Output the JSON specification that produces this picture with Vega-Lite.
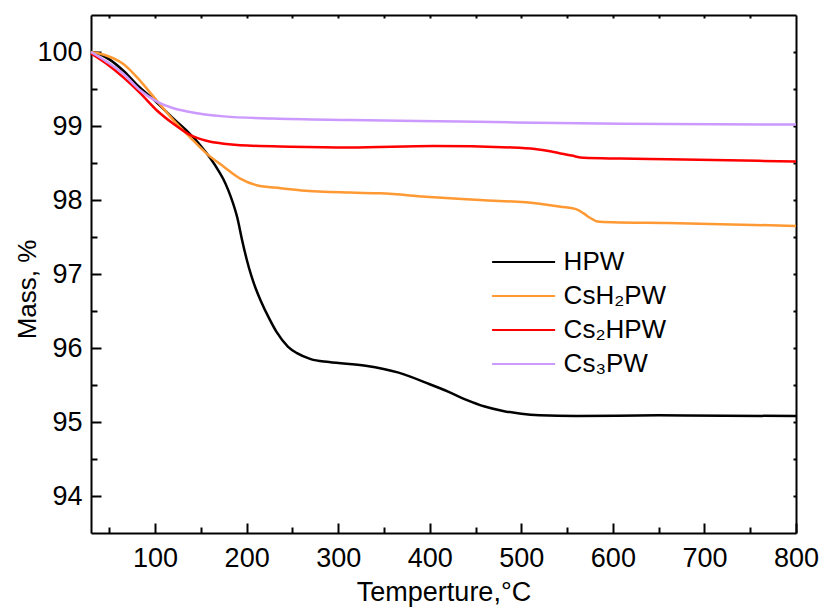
{
  "$schema": "https://vega.github.io/schema/vega-lite/v6.json",
  "width": 705,
  "height": 518,
  "autosize": {"type": "none"},
  "padding": {"left": 91, "top": 15, "right": 30, "bottom": 77},
  "background": "white",
  "config": {
    "font": "Liberation Sans",
    "view": {"stroke": null},
    "axis": {"grid": false, "domainColor": "black", "domainWidth": 2, "tickColor": "black", "tickWidth": 2, "labelColor": "black", "titleColor": "black", "labelFont": "Liberation Sans", "titleFont": "Liberation Sans", "titleFontWeight": "normal", "labelFlush": false}
  },
  "data": {"values": [
    {"s":"HPW","t":30,"m":100.0},{"s":"HPW","t":40,"m":99.97},{"s":"HPW","t":50,"m":99.9},{"s":"HPW","t":65,"m":99.75},{"s":"HPW","t":80,"m":99.56},{"s":"HPW","t":100,"m":99.34},{"s":"HPW","t":120,"m":99.1},{"s":"HPW","t":135,"m":98.93},{"s":"HPW","t":150,"m":98.73},{"s":"HPW","t":160,"m":98.57},{"s":"HPW","t":170,"m":98.38},{"s":"HPW","t":175,"m":98.27},{"s":"HPW","t":180,"m":98.13},{"s":"HPW","t":185,"m":97.96},{"s":"HPW","t":190,"m":97.75},{"s":"HPW","t":195,"m":97.46},{"s":"HPW","t":200,"m":97.2},{"s":"HPW","t":205,"m":96.98},{"s":"HPW","t":210,"m":96.8},{"s":"HPW","t":215,"m":96.65},{"s":"HPW","t":225,"m":96.39},{"s":"HPW","t":233,"m":96.21},{"s":"HPW","t":245,"m":96.02},{"s":"HPW","t":255,"m":95.93},{"s":"HPW","t":270,"m":95.85},{"s":"HPW","t":290,"m":95.81},{"s":"HPW","t":330,"m":95.76},{"s":"HPW","t":365,"m":95.67},{"s":"HPW","t":400,"m":95.51},{"s":"HPW","t":420,"m":95.41},{"s":"HPW","t":440,"m":95.3},{"s":"HPW","t":460,"m":95.21},{"s":"HPW","t":480,"m":95.15},{"s":"HPW","t":500,"m":95.11},{"s":"HPW","t":520,"m":95.09},{"s":"HPW","t":560,"m":95.08},{"s":"HPW","t":650,"m":95.09},{"s":"HPW","t":800,"m":95.08},
    {"s":"CsH₂PW","t":30,"m":100.0},{"s":"CsH₂PW","t":45,"m":99.96},{"s":"CsH₂PW","t":65,"m":99.84},{"s":"CsH₂PW","t":83,"m":99.62},{"s":"CsH₂PW","t":100,"m":99.37},{"s":"CsH₂PW","t":120,"m":99.08},{"s":"CsH₂PW","t":138,"m":98.85},{"s":"CsH₂PW","t":156,"m":98.63},{"s":"CsH₂PW","t":175,"m":98.45},{"s":"CsH₂PW","t":193,"m":98.29},{"s":"CsH₂PW","t":211,"m":98.2},{"s":"CsH₂PW","t":237,"m":98.16},{"s":"CsH₂PW","t":260,"m":98.13},{"s":"CsH₂PW","t":313,"m":98.1},{"s":"CsH₂PW","t":346,"m":98.09},{"s":"CsH₂PW","t":400,"m":98.04},{"s":"CsH₂PW","t":455,"m":98.0},{"s":"CsH₂PW","t":520,"m":97.95},{"s":"CsH₂PW","t":543,"m":97.91},{"s":"CsH₂PW","t":561,"m":97.87},{"s":"CsH₂PW","t":568,"m":97.82},{"s":"CsH₂PW","t":575,"m":97.76},{"s":"CsH₂PW","t":583,"m":97.71},{"s":"CsH₂PW","t":600,"m":97.7},{"s":"CsH₂PW","t":660,"m":97.69},{"s":"CsH₂PW","t":800,"m":97.65},
    {"s":"Cs₂HPW","t":30,"m":99.98},{"s":"Cs₂HPW","t":47,"m":99.84},{"s":"Cs₂HPW","t":65,"m":99.66},{"s":"Cs₂HPW","t":84,"m":99.44},{"s":"Cs₂HPW","t":102,"m":99.21},{"s":"Cs₂HPW","t":120,"m":99.03},{"s":"Cs₂HPW","t":138,"m":98.88},{"s":"Cs₂HPW","t":156,"m":98.8},{"s":"Cs₂HPW","t":175,"m":98.76},{"s":"Cs₂HPW","t":193,"m":98.74},{"s":"Cs₂HPW","t":248,"m":98.72},{"s":"Cs₂HPW","t":313,"m":98.71},{"s":"Cs₂HPW","t":404,"m":98.73},{"s":"Cs₂HPW","t":490,"m":98.71},{"s":"Cs₂HPW","t":515,"m":98.69},{"s":"Cs₂HPW","t":535,"m":98.65},{"s":"Cs₂HPW","t":555,"m":98.6},{"s":"Cs₂HPW","t":568,"m":98.57},{"s":"Cs₂HPW","t":608,"m":98.56},{"s":"Cs₂HPW","t":660,"m":98.55},{"s":"Cs₂HPW","t":800,"m":98.52},
    {"s":"Cs₃PW","t":30,"m":100.0},{"s":"Cs₃PW","t":47,"m":99.87},{"s":"Cs₃PW","t":65,"m":99.71},{"s":"Cs₃PW","t":84,"m":99.48},{"s":"Cs₃PW","t":102,"m":99.33},{"s":"Cs₃PW","t":120,"m":99.24},{"s":"Cs₃PW","t":138,"m":99.19},{"s":"Cs₃PW","t":175,"m":99.13},{"s":"Cs₃PW","t":229,"m":99.1},{"s":"Cs₃PW","t":313,"m":99.08},{"s":"Cs₃PW","t":433,"m":99.06},{"s":"Cs₃PW","t":608,"m":99.03},{"s":"Cs₃PW","t":800,"m":99.02}
  ]},
  "resolve": {"axis": {"x": "independent", "y": "independent"}},
  "layer": [
    {
      "mark": {"type": "line", "opacity": 0},
      "encoding": {
        "x": {"field": "t", "type": "quantitative", "scale": {"domain": [30, 800], "nice": false, "zero": false},
          "axis": {"orient": "bottom", "values": [50,150,250,350,450,550,650,750], "tickSize": -6, "labels": false, "domain": false, "title": null}},
        "y": {"field": "m", "type": "quantitative", "scale": {"domain": [93.5, 100.5], "nice": false, "zero": false},
          "axis": {"orient": "left", "values": [94.5,95.5,96.5,97.5,98.5,99.5], "tickSize": -6, "labels": false, "domain": false, "title": null}},
        "detail": {"field": "s"}
      }
    },
    {
      "mark": {"type": "line", "opacity": 0},
      "encoding": {
        "x": {"field": "t", "type": "quantitative",
          "axis": {"orient": "top", "values": [50,100,150,200,250,300,350,400,450,500,550,600,650,700,750], "tickSize": -3, "labels": false, "domain": true, "title": null}},
        "y": {"field": "m", "type": "quantitative",
          "axis": {"orient": "right", "values": [94,94.5,95,95.5,96,96.5,97,97.5,98,98.5,99,99.5,100], "tickSize": -3, "labels": false, "domain": true, "title": null}},
        "detail": {"field": "s"}
      }
    },
    {
      "mark": {"type": "line", "strokeWidth": 2.5, "interpolate": "monotone"},
      "encoding": {
        "x": {"field": "t", "type": "quantitative",
          "axis": {"orient": "bottom", "values": [100,200,300,400,500,600,700,800], "tickSize": -10, "labelPadding": 22, "labelFontSize": 27, "title": "Temperture,°C", "titleFontSize": 27, "titleY": 67, "titleBaseline": "alphabetic"}},
        "y": {"field": "m", "type": "quantitative",
          "axis": {"orient": "left", "values": [94,95,96,97,98,99,100], "tickSize": -10, "labelPadding": 19, "labelFontSize": 27, "title": "Mass, %", "titleFontSize": 26, "titleX": -56, "titleY": 274, "titleAngle": 270, "titleBaseline": "alphabetic", "titleAlign": "center"}},
        "color": {"field": "s", "type": "nominal",
          "scale": {"domain": ["HPW", "CsH₂PW", "Cs₂HPW", "Cs₃PW"], "range": ["#000000", "#FF9933", "#FF0000", "#CC99FF"]},
          "legend": {"orient": "none", "legendX": 396, "legendY": 234, "title": null, "symbolType": "M-4,0H4", "symbolSize": 248, "symbolStrokeWidth": 2, "symbolOffset": 23.6, "labelOffset": 27, "labelFontSize": 26, "labelFont": "Liberation Sans", "labelColor": "black", "rowPadding": 8, "padding": 0, "labelLimit": 0}}
      }
    }
  ]
}
